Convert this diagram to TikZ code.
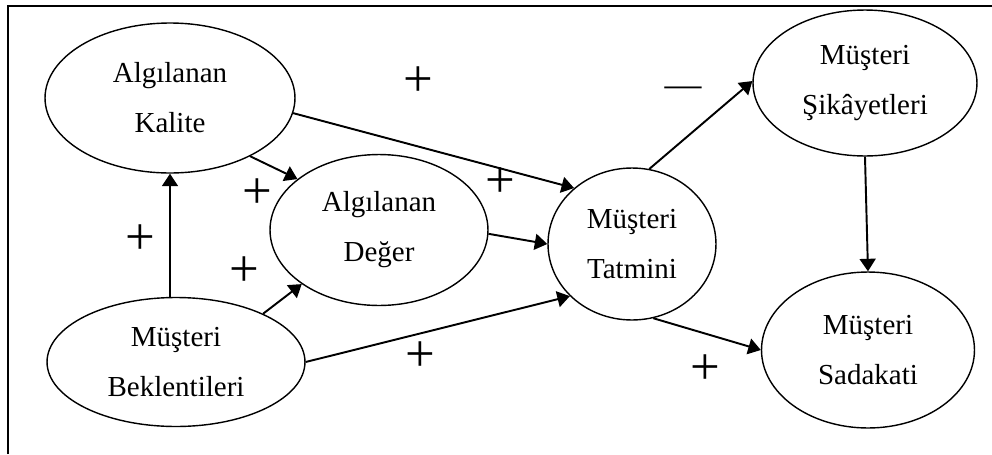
\documentclass[tikz,border=0pt]{standalone}
\usepackage{fontspec}
\setmainfont{Liberation Serif}
\usetikzlibrary{arrows.meta}
\usetikzlibrary{shapes.geometric}

\tikzset{
	oval/.style={draw, ellipse, line width=0.8pt, inner sep=0pt, align=center,
		font=\fontsize{16.5}{28.5}\selectfont},
	link/.style={-{Triangle[length=0.25cm,width=0.32cm]}, line width=1.1pt},
	sign/.style={inner sep=0pt, font=\fontsize{30}{30}\selectfont}
}

\begin{document}
\begin{tikzpicture}[x=0.02cm,y=-0.02cm]
		\useasboundingbox (0,0) rectangle (992,454);
		\draw[line width=1.1pt] (8,454) -- (8,6) -- (992,6);
		
		\node[oval, minimum width=5cm, minimum height=3cm] (kalite) at (170,98) {Algılanan\\Kalite};
		\node[oval, minimum width=5.16cm, minimum height=2.58cm] (beklenti) at (176,362) {Müşteri\\Beklentileri};
		\node[oval, minimum width=4.36cm, minimum height=3.02cm] (deger) at (379,230) {Algılanan\\Değer};
		\node[oval, minimum width=3.36cm, minimum height=3.04cm] (tatmin) at (632,244) {Müşteri\\Tatmini};
		\node[oval, minimum width=4.48cm, minimum height=2.92cm] (sikayet) at (865,83) {Müşteri\\Şikâyetleri};
		\node[oval, minimum width=4.26cm, minimum height=3.12cm] (sadakat) at (868,350) {Müşteri\\Sadakati};
		
		\draw[link] (kalite.-36) -- (deger.148);
		\draw[link] (kalite.-7) -- (tatmin.136);
		\draw[link] (beklenti.north -| kalite.south) -- (kalite.south);
		\draw[link] (beklenti.29) -- (deger.215);
		\draw[link] (beklenti.east) -- (tatmin.220);
		\draw[link] (deger.-2) -- (tatmin.180);
		\draw[link] (tatmin.77) -- (sikayet.179);
		\draw[link] (sikayet.south) -- (sadakat.north);
		\draw[link] (tatmin.-74) -- (sadakat.west);
		
		\node[sign] (s1) at (418,82) {+};
		\node[sign] (s2) at (257,194) {+};
		\node[sign] (s3) at (500,183) {+};
		\node[sign] (s4) at (140,240) {+};
		\node[sign] (s5) at (244,272) {+};
		\node[sign] (s6) at (420,357) {+};
		\node[sign] (s7) at (705,370) {+};
		\node[sign, font=\fontsize{21}{21}\selectfont] (s8) at (683,92) {—};
	\end{tikzpicture}
\end{document}
